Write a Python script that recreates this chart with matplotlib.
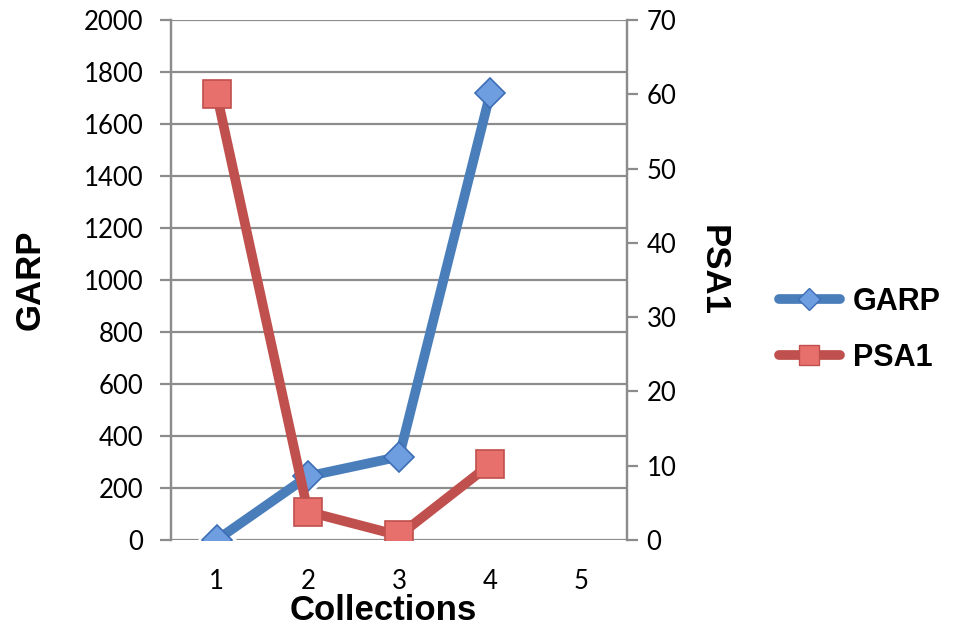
import matplotlib.pyplot as plt
from matplotlib.lines import Line2D

collections = [1, 2, 3, 4]
x_ticks = [1, 2, 3, 4, 5]
garp = [0, 245, 320, 1720]
psa1 = [60, 3.8, 0.6, 10.2]

blue = '#4a7ebb'
red = '#c0504d'
grid_gray = '#8c8c8c'

tick_font = 'Lato'
title_font = 'Liberation Sans'

fig = plt.figure(figsize=(9.56, 6.3), dpi=100)
ax = fig.add_axes([0.179, 0.143, 0.477, 0.825])
ax2 = ax.twinx()

# left axis: GARP
ax.set_xlim(0.5, 5.5)
ax.set_ylim(0, 2000)
ax.set_yticks(range(0, 2001, 200))
ax.set_xticks(x_ticks)
ax.yaxis.grid(True, color=grid_gray, linewidth=1.6)
ax.set_axisbelow(True)
ax.plot(collections, garp, color='white', linewidth=0, marker='D',
        markersize=19, zorder=2)
ax.plot(collections, garp, color=blue, linewidth=7, marker='D',
        markersize=15, markerfacecolor='#6e9de0', markeredgecolor='#3d6eb5',
        markeredgewidth=1.2, solid_capstyle='butt', zorder=3)

# right axis: PSA1
ax2.set_ylim(0, 70)
ax2.set_yticks(range(0, 71, 10))
ax2.plot(collections, psa1, color=red, linewidth=7, marker='s',
         markersize=20, markerfacecolor='#e8706c', markeredgecolor='#c0504d',
         markeredgewidth=1.2, solid_capstyle='butt', zorder=3)

for a in (ax, ax2):
    for side in ('top', 'bottom'):
        a.spines[side].set_visible(False)
    for side in ('left', 'right'):
        a.spines[side].set_color(grid_gray)
        a.spines[side].set_linewidth(1.6)
    a.tick_params(axis='y', direction='out', length=8, width=1.6,
                  color=grid_gray, labelsize=18.5)
    for lab in a.get_yticklabels():
        lab.set_fontfamily(tick_font)
ax.tick_params(axis='y', pad=12)
ax2.tick_params(axis='y', pad=6)

ax.tick_params(axis='x', length=0, labelsize=18.5, pad=21)
for lab in ax.get_xticklabels():
    lab.set_fontfamily(tick_font)

ax.set_xlabel('Collections', fontsize=25, fontweight='bold',
              fontfamily=title_font, va='center')
ax.xaxis.set_label_coords(0.465, -0.136)
ax.set_ylabel('GARP', fontsize=25, fontweight='bold',
              fontfamily=title_font, va='center')
ax.yaxis.set_label_coords(-0.309, 0.5)
ax2.set_ylabel('PSA1', fontsize=25, fontweight='bold',
               fontfamily=title_font, rotation=-90, va='center')
ax2.yaxis.set_label_coords(1.189, 0.519)

handles = [
    Line2D([], [], color=blue, linewidth=7, marker='D', markersize=11,
           markerfacecolor='#6e9de0', markeredgecolor='#3d6eb5',
           solid_capstyle='round'),
    Line2D([], [], color=red, linewidth=7, marker='s', markersize=14,
           markerfacecolor='#e8706c', markeredgecolor='#c0504d',
           solid_capstyle='round'),
]
leg = fig.legend(handles, ['GARP', 'PSA1'], loc='center left',
                 bbox_to_anchor=(0.786, 0.476), frameon=False,
                 handlelength=2.0, handletextpad=0.42, labelspacing=0.85,
                 prop={'family': title_font, 'weight': 'bold', 'size': 22})

fig.savefig('out.png', dpi=100)
